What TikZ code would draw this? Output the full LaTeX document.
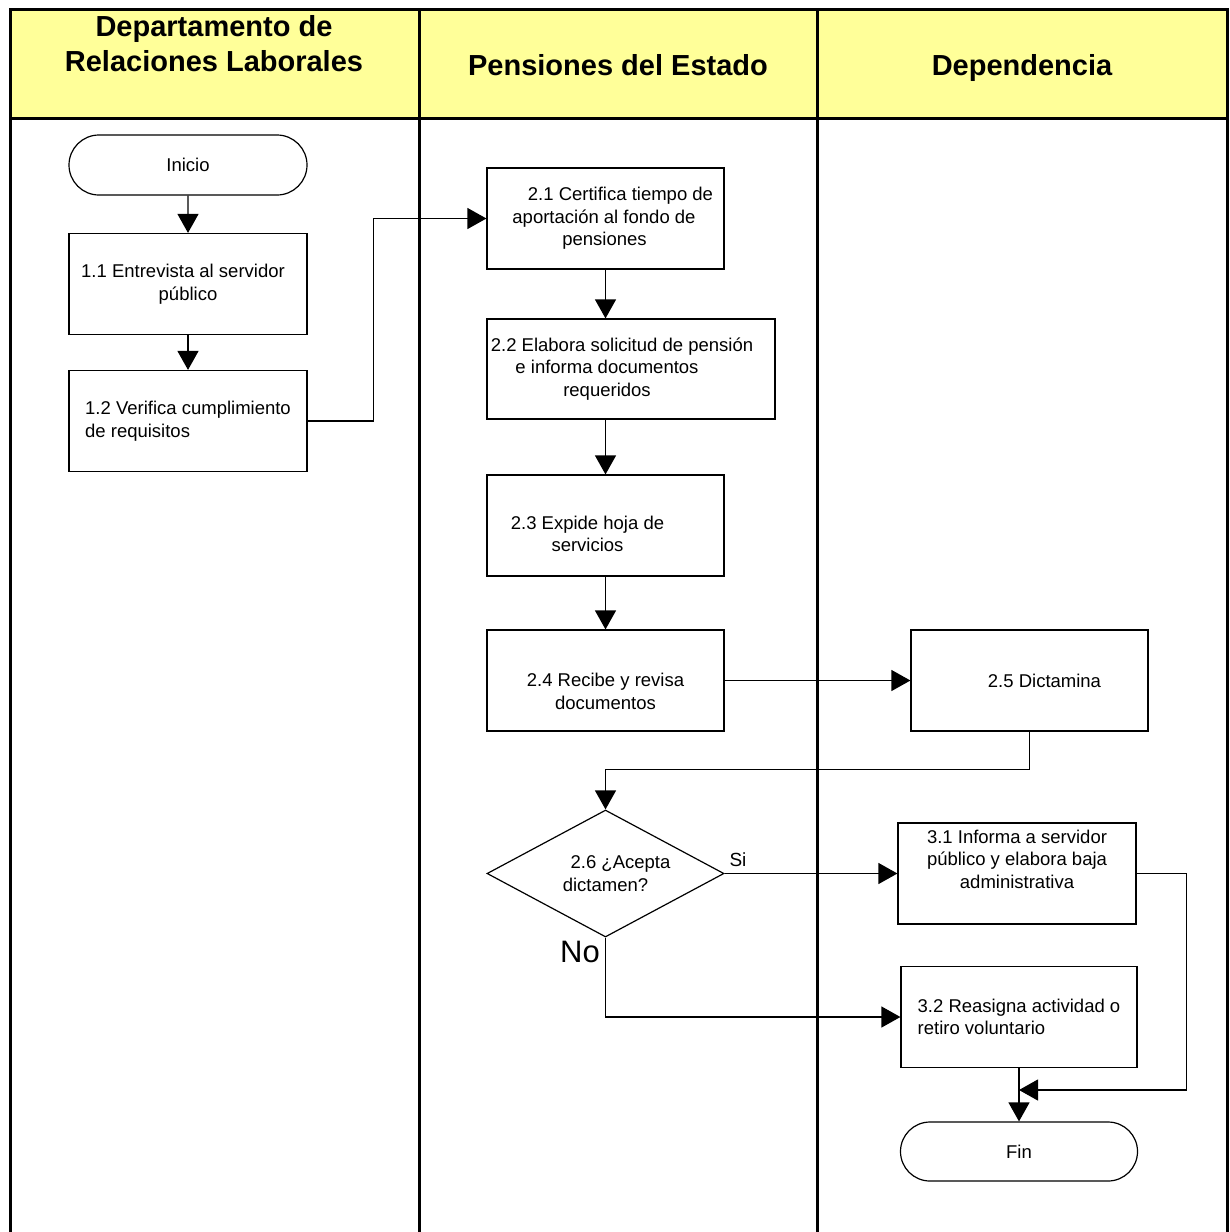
\documentclass[tikz,border=0pt]{standalone}
\usepackage{fontspec}
\setmainfont{Liberation Sans}
\usetikzlibrary{arrows.meta,shapes.geometric,shapes.misc}
\definecolor{laneyellow}{HTML}{FFFF99}
% invisible horizontal padding that survives line breaks
\newcommand{\padr}[1]{\rule{#1}{0pt}}
\begin{document}
\begin{tikzpicture}[x=1pt,y=-1pt,
  lane/.style={line width=3pt},
  headtext/.style={font=\fontsize{29}{35}\selectfont\bfseries, align=center, inner sep=0pt},
  stepbox/.style={draw, line width=1.2pt, line join=miter, minimum width=238pt, minimum height=101pt,
    inner sep=0pt, align=center, font=\fontsize{18.5}{22.5}\selectfont},
  terminal/.style={draw, rounded rectangle, line width=1.2pt, minimum width=238pt,
    minimum height=60pt, inner sep=0pt, font=\fontsize{18.5}{22.5}\selectfont},
  decision/.style={draw, diamond, aspect=1.87, line width=1.2pt, minimum width=237pt,
    minimum height=127pt, inner sep=0pt, align=center, font=\fontsize{18.5}{22.5}\selectfont},
  flow/.style={line width=1.2pt, -{Triangle[length=19pt,width=21pt]}},
  tag/.style={inner sep=0pt, font=\fontsize{19}{22}\selectfont}]

\clip (0,0) rectangle (1230,1232);
\fill[white] (0,0) rectangle (1230,1232);

% swimlane header band and lane borders
\fill[laneyellow] (10,9) rectangle (1227,118);
\draw[lane] (10,1240) -- (10,9) -- (1227,9) -- (1227,1240);
\draw[lane] (10,118) -- (1227,118);
\draw[lane] (419,9) -- (419,1240);
\draw[lane] (817,9) -- (817,1240);

\node[headtext] (h1) at (214,44) {Departamento de\\Relaciones Laborales};
\node[headtext, text height=21pt, text depth=6pt] (h2) at (618,68) {Pensiones del Estado};
\node[headtext, text height=21pt, text depth=6pt] (h3) at (1022,68) {Dependencia};

% lane 1
\node[terminal] (inicio) at (188,165) {Inicio};
\node[stepbox] (t11) at (188,284) {1.1 Entrevista al servidor\padr{10pt}\\público};
\node[stepbox, align=left] (t12) at (188,421) {1.2 Verifica cumplimiento\\de requisitos};

% lane 2
\node[stepbox, minimum width=237pt] (t21) at (605.5,218.5)
  {\padr{30pt}2.1 Certifica tiempo de\\aportación al fondo de\padr{3pt}\\pensiones\padr{2pt}};
\node[stepbox, minimum width=288pt, minimum height=100pt] (t22) at (631,369)
  {2.2 Elabora solicitud de pensión\padr{18pt}\\e informa documentos\padr{48pt}\\requeridos\padr{48pt}};
\node[stepbox, minimum width=237pt] (t23) at (605.5,525.5)
  {\mbox{}\\[8pt]2.3 Expide hoja de\padr{36pt}\\servicios\padr{36pt}};
\node[stepbox, minimum width=237pt] (t24) at (605.5,680.5)
  {\mbox{}\\[13pt]2.4 Recibe y revisa\\documentos};
\node[decision] (d26) at (605.5,873.5) {\padr{30pt}2.6 ¿Acepta\\dictamen?};
\node[tag] (si) at (738,860) {Si};
\node[tag, font=\fontsize{31}{36}\selectfont] (no) at (580,952) {No};

% lane 3
\node[stepbox, minimum width=237pt] (t25) at (1029.5,680.5) {\padr{30pt}2.5 Dictamina};
\node[stepbox] (t31) at (1017,873.5) {3.1 Informa a servidor\\público y elabora baja\\administrativa\\[6pt]};
\node[stepbox, minimum width=236pt, align=left] (t32) at (1019,1017) {3.2 Reasigna actividad o\\retiro voluntario};
\node[terminal, minimum width=237pt, minimum height=59pt] (fin) at (1019,1151.5) {Fin};
\coordinate (merge) at (1019,1090);

% connectors
\draw[flow] (inicio) -- (t11);
\draw[flow] (t11) -- (t12);
\draw[flow] (t12.east) -- ++(66,0) |- (t21.west);
\draw[flow] (t21.south) -- (t21.south |- t22.north);
\draw[flow] (t22.south -| t23.north) -- (t23.north);
\draw[flow] (t23) -- (t24);
\draw[flow] (t24.east) -- (t24.east -| t25.west);
\draw[flow] (t25.south) -- ++(0,38) -| (d26.north);
\draw[flow] (d26.east) -- (d26.east -| t31.west);
\draw[flow] (d26.south) |- (t32.west);
\draw[flow] (t31.east) -- ++(50,0) |- (merge);
\draw[flow] (t32.south) -- (fin.north);

\end{tikzpicture}
\end{document}
